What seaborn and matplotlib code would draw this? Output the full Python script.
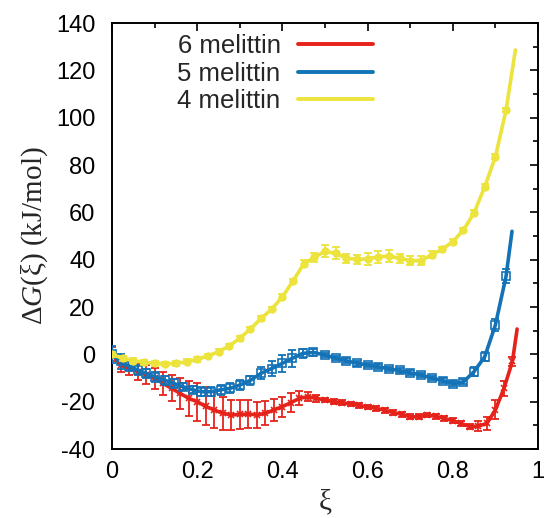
import numpy as np
import pandas as pd
import seaborn as sns
import matplotlib
matplotlib.use("Agg")
import matplotlib.pyplot as plt
from matplotlib.ticker import MultipleLocator, FuncFormatter

# ---------------- data ----------------
labels = ["6 melittin", "5 melittin", "4 melittin"]

xi_6 = [0.00, 0.02, 0.04, 0.06, 0.08, 0.10, 0.12, 0.14, 0.16, 0.18,
        0.20, 0.22, 0.24, 0.26, 0.28, 0.30, 0.32, 0.34, 0.36, 0.38,
        0.40, 0.42, 0.44, 0.46, 0.48, 0.50, 0.52, 0.54, 0.56, 0.58,
        0.60, 0.62, 0.64, 0.66, 0.68, 0.70, 0.72, 0.74, 0.76, 0.78,
        0.80, 0.82, 0.84, 0.86, 0.88, 0.90, 0.92, 0.94]
g_6 = [0.0, -4.5, -5.9, -7.3, -8.7, -10.1, -12.3, -14.4, -16.5, -18.6,
       -20.0, -22.0, -23.5, -24.9, -25.6, -25.4, -25.2, -25.6, -24.9, -23.5,
       -22.1, -20.4, -18.6, -17.9, -18.6, -19.3, -20.0, -20.4, -21.0, -21.6,
       -22.2, -22.8, -23.6, -24.6, -25.3, -26.4, -26.4, -25.6, -26.2, -27.0,
       -28.1, -29.2, -30.6, -30.3, -29.2, -23.5, -14.4, -3.0]
err_6 = [3.0, 3.0, 3.0, 3.5, 4.0, 4.5, 5.0, 5.5, 6.5, 7.5,
         8.0, 8.0, 7.5, 7.0, 6.5, 6.0, 6.0, 5.5, 5.0, 4.5,
         4.2, 4.0, 3.0, 2.0, 1.5, 1.0, 1.0, 1.0, 1.0, 1.0,
         1.0, 1.0, 1.0, 1.0, 1.0, 1.0, 1.0, 1.0, 1.0, 1.0,
         1.0, 1.0, 1.0, 2.0, 2.8, 4.0, 3.0, 2.0]
end_6 = (0.951, 10.7)

xi_5 = [0.000, 0.020, 0.040, 0.060, 0.080, 0.100, 0.125, 0.145, 0.167, 0.190,
        0.210, 0.233, 0.255, 0.278, 0.300, 0.325, 0.350, 0.375, 0.400, 0.423,
        0.448, 0.473, 0.500, 0.525, 0.550, 0.575, 0.600, 0.625, 0.650, 0.675,
        0.700, 0.725, 0.750, 0.777, 0.800, 0.825, 0.850, 0.875, 0.900, 0.925]
g_5 = [0.0, -3.0, -5.0, -6.6, -8.0, -9.5, -11.0, -12.3, -13.7, -15.0,
       -15.8, -15.8, -15.0, -14.3, -13.0, -11.0, -8.0, -6.0, -3.8, -1.7,
       0.4, 0.8, -0.3, -1.6, -2.7, -3.8, -4.5, -5.2, -6.2, -6.8,
       -7.8, -8.7, -10.0, -11.1, -12.4, -11.6, -7.3, -1.0, 12.4, 33.0]
err_5 = [3.5, 3.0, 2.0, 2.0, 2.0, 2.0, 2.0, 2.0, 1.5, 1.5,
         2.0, 2.0, 2.0, 2.0, 2.0, 2.0, 2.5, 3.0, 3.5, 3.5,
         2.0, 1.5, 1.0, 1.0, 1.0, 1.0, 1.0, 1.0, 1.0, 1.0,
         1.0, 1.0, 1.0, 1.0, 1.0, 1.0, 2.0, 2.0, 2.5, 3.0]
end_5 = (0.939, 52.0)

xi_4 = [0.000, 0.025, 0.050, 0.075, 0.100, 0.125, 0.150, 0.175, 0.200, 0.225,
        0.250, 0.275, 0.300, 0.325, 0.350, 0.375, 0.400, 0.425, 0.450, 0.475,
        0.500, 0.525, 0.550, 0.575, 0.600, 0.625, 0.650, 0.675, 0.700, 0.725,
        0.750, 0.775, 0.800, 0.825, 0.850, 0.875, 0.900, 0.925]
g_4 = [0.0, -1.7, -2.7, -3.4, -3.8, -4.1, -3.8, -3.1, -2.1, -0.7,
       1.1, 3.5, 6.8, 10.7, 15.2, 19.1, 24.3, 31.0, 38.2, 41.0,
       43.5, 42.7, 40.6, 40.1, 40.3, 41.2, 41.5, 40.6, 39.6, 39.6,
       42.0, 44.4, 47.6, 52.5, 59.8, 70.8, 83.5, 103.2]
err_4 = [1.0, 1.0, 1.0, 1.0, 1.0, 1.0, 1.0, 1.0, 1.0, 1.0,
         1.0, 1.0, 1.0, 1.0, 1.0, 1.0, 1.0, 1.0, 1.5, 2.0,
         2.5, 2.5, 2.0, 2.0, 2.5, 2.5, 2.5, 2.0, 2.0, 2.0,
         1.5, 1.0, 1.0, 1.0, 1.0, 1.0, 1.0, 1.0]
end_4 = (0.947, 128.6)

x_ticks = [0, 0.2, 0.4, 0.6, 0.8, 1]
y_ticks = [-40, -20, 0, 20, 40, 60, 80, 100, 120, 140]

# ---------------- styling ----------------
sns.set_theme(style="white")
plt.rcParams["font.family"] = ["Liberation Sans", "DejaVu Sans"]
plt.rcParams["axes.unicode_minus"] = False
plt.rcParams["mathtext.fontset"] = "custom"
plt.rcParams["mathtext.rm"] = "Liberation Serif"
plt.rcParams["mathtext.it"] = "Liberation Serif:italic"

colors = {"6 melittin": "#e5231b", "5 melittin": "#1472b6", "4 melittin": "#ece33c"}
markers = {"6 melittin": dict(marker="x", ms=5, mew=1.2),
           "5 melittin": dict(marker="s", ms=5.5, mew=1.2, mfc="none"),
           "4 melittin": dict(marker="o", ms=6, mew=0)}

fig = plt.figure(figsize=(5.47, 5.18), dpi=100)
ax = fig.add_axes([112 / 547, 1 - 449 / 518, 426 / 547, 426 / 518])

series = [
    ("6 melittin", xi_6, g_6, err_6, end_6),
    ("5 melittin", xi_5, g_5, err_5, end_5),
    ("4 melittin", xi_4, g_4, err_4, end_4),
]

for z, (lab, xs, gs, es, end) in enumerate(series):
    c = colors[lab]
    curve = pd.DataFrame({"xi": list(xs) + [end[0]], "G": list(gs) + [end[1]]})
    sns.lineplot(data=curve, x="xi", y="G", ax=ax, color=c, lw=2.6,
                 label=lab, zorder=3 + 2 * z, sort=True, estimator=None)
    ax.errorbar(xs, gs, yerr=es, fmt="none", ecolor=c, elinewidth=1.3,
                capsize=3, capthick=1.3, zorder=2 + 2 * z)
    m = markers[lab]
    ax.plot(xs, gs, ls="none", color=c, zorder=3 + 2 * z, **m)

ax.set_xlim(0, 1)
ax.set_ylim(-40, 140)
ax.set_xticks(x_ticks)
ax.set_yticks(y_ticks)
ax.xaxis.set_minor_locator(MultipleLocator(0.1))
ax.yaxis.set_minor_locator(MultipleLocator(10))
ax.xaxis.set_major_formatter(FuncFormatter(lambda v, p: f"{v:g}"))
ax.tick_params(which="both", direction="in", top=True, right=True, colors="black",
               labelsize=17, width=1.2)
ax.tick_params(which="major", length=6)
ax.tick_params(which="minor", length=3.5)
ax.tick_params(axis="y", pad=12)
ax.tick_params(axis="x", pad=9)
for sp in ax.spines.values():
    sp.set_color("black")
    sp.set_linewidth(1.4)

ax.set_xlabel(r"$\mathrm{\xi}$", fontsize=21, labelpad=3)
ax.set_ylabel(r"$\mathrm{\Delta}G(\mathrm{\xi})\ \mathrm{(kJ/mol)}$", fontsize=21, labelpad=4)

leg = ax.legend(loc="upper right", bbox_to_anchor=((373 - 112) / 426, 0.975),
                frameon=False, markerfirst=False, fontsize=18.5,
                handlelength=2.9, handletextpad=0.7, labelspacing=0.15,
                borderaxespad=0, borderpad=0)
for h in leg.legend_handles:
    h.set_linewidth(2.8)

fig.savefig("out.png", dpi=100)
